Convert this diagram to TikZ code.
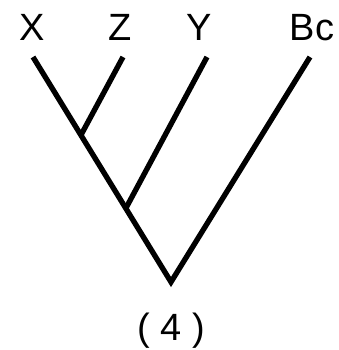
\documentclass[tikz,border=0pt]{standalone}
\usepackage{fontspec}
\setmainfont{Liberation Sans}
\begin{document}
\begin{tikzpicture}[x=0.025cm,y=-0.025cm,
  branch/.style={line width=3.8pt,line join=miter},
  taxon/.style={anchor=base,inner sep=0pt,font=\fontsize{27}{30}\selectfont}]
\useasboundingbox (0,0) rectangle (339,350);
% taxa
\node[taxon] (x) at (32,40) {X};
\node[taxon] (z) at (120,40) {Z};
\node[taxon] (y) at (199,40) {Y};
\node[taxon] (bc) at (312,40) {Bc};
% branch points
\coordinate (xtop) at (33,57);
\coordinate (ztop) at (123,57);
\coordinate (ytop) at (207,57);
\coordinate (bctop) at (310,57);
\coordinate (xz) at (81,135);
\coordinate (xzy) at (126,208);
\coordinate (root) at (171,282);
\draw[branch] (xtop) -- (root) -- (bctop);
\draw[branch] (ztop) -- (xz);
\draw[branch] (ytop) -- (xzy);
\node[taxon] (tree) at (171,340) {( 4 )};
\end{tikzpicture}
\end{document}
